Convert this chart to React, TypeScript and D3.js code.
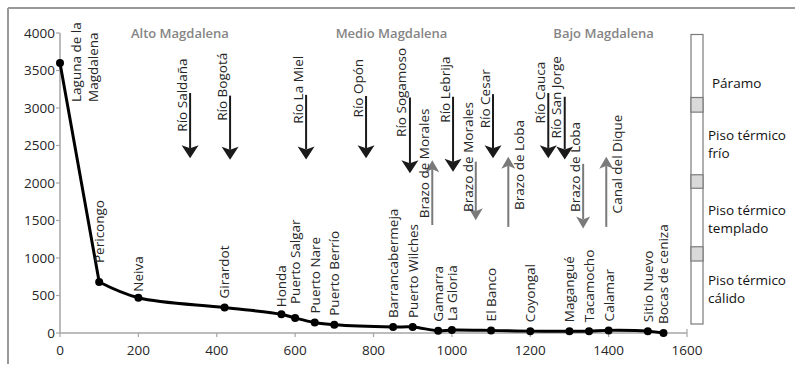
import React from "react";
import * as d3 from "d3";

// ---- Data ----
const cities = [
  "Laguna de la Magdalena", "Pericongo", "Neiva", "Girardot", "Honda",
  "Puerto Salgar", "Puerto Nare", "Puerto Berrío", "Barrancabermeja",
  "Puerto Wilches", "Gamarra", "La Gloria", "El Banco", "Coyongal",
  "Magangué", "Tacamocho", "Calamar", "Sitio Nuevo", "Bocas de ceniza",
];
const distanceKm = [0, 100, 200, 420, 565, 600, 650, 700, 850, 900, 965, 1000, 1100, 1200, 1300, 1350, 1400, 1500, 1540];
const elevationM = [3600, 680, 470, 340, 250, 200, 140, 110, 80, 80, 30, 40, 35, 25, 25, 25, 35, 25, 0];

const xTicks = [0, 200, 400, 600, 800, 1000, 1200, 1400, 1600];
const yTicks = [0, 500, 1000, 1500, 2000, 2500, 3000, 3500, 4000];

const regionNames = ["Alto Magdalena", "Medio Magdalena", "Bajo Magdalena"];
const regionCenterKm = [306, 846, 1387];

// Tributaries (black arrows pointing down)
const tribNames = ["Río Saldaña", "Río Bogotá", "Río La Miel", "Río Opón", "Río Sogamoso", "Río Lebrija", "Río Cesar", "Río Cauca", "Río San Jorge"];
const tribKm = [332, 434, 628, 781, 893, 1003, 1105, 1246, 1288];
const tribTop = [3200, 3165, 3175, 3160, 3140, 3150, 3185, 3200, 3150];
const tribTip = [2330, 2310, 2315, 2330, 2130, 2150, 2330, 2330, 2315];
const tribLabelStart = [2685, 2830, 2790, 2875, 2615, 2805, 2730, 2795, 2595];

// Branches (grey arrows)
const branchNames = ["Brazo de Morales", "Brazo de Morales", "Brazo de Loba", "Brazo de Loba", "Canal del Dique"];
const branchKm = [950, 1061, 1144, 1335, 1394];
const branchTail = [1440, 2285, 1415, 2255, 1415];
const branchTip = [2305, 1505, 2350, 1395, 2350];
const branchLabelStart = [1530, 1615, 1640, 1615, 1595];
const branchLabelRight = [false, false, true, false, true];

// Thermal floors
const floorBarTop = 3980;
const floorBarBottom = 120;
const transitionLow = [2945, 1930, 960];
const transitionHigh = [3140, 2110, 1150];
const floorLabels = [["Páramo"], ["Piso térmico", "frío"], ["Piso térmico", "templado"], ["Piso térmico", "cálido"]];
const floorLabelElev = [3265, 2575, 1575, 640];

// ---- Layout ----
const W = 795;
const H = 367;
const FONT = "'Open Sans', 'Noto Sans', sans-serif";
const FS = 13.5;

const labelGap: Record<string, number> = { Pericongo: 19, "Puerto Salgar": 14, Neiva: 6, Honda: 7 };

export default function App() {
  const x = d3.scaleLinear().domain([0, 1600]).range([60, 687]);
  const y = d3.scaleLinear().domain([0, 4000]).range([333, 33]);

  const pts = distanceKm.map((d, i) => [x(d), y(elevationM[i])] as [number, number]);
  // steep headwater drop is drawn straight, the rest smoothed
  const headPath = d3.line().curve(d3.curveLinear)(pts.slice(0, 2)) || "";
  const restPath = d3.line().curve(d3.curveCatmullRom.alpha(0.5))(pts.slice(1)) || "";

  const axisColor = "#a6a6a6";
  const textColor = "#262626";

  const downHead = (cx: number, ty: number, hw = 8.5, hh = 13) =>
    `M${cx},${ty} L${cx - hw},${ty - hh} L${cx},${ty - hh + 3} L${cx + hw},${ty - hh} Z`;
  const upHead = (cx: number, ty: number, hw = 7, hh = 12) =>
    `M${cx},${ty} L${cx - hw},${ty + hh} L${cx},${ty + hh - 3} L${cx + hw},${ty + hh} Z`;

  return (
    <svg width={W} height={H} style={{ position: "absolute", left: 0, top: 0, background: "#fff" }} fontFamily={FONT}>
      {/* frame */}
      <line x1={8} y1={8} x2={W} y2={8} stroke="#999" strokeWidth={2} />
      <line x1={8} y1={8} x2={8} y2={364} stroke="#999" strokeWidth={2} />

      {/* axes */}
      <line x1={x(0)} y1={y(0)} x2={x(1600)} y2={y(0)} stroke={axisColor} strokeWidth={1.5} />
      <line x1={x(1600)} y1={y(0)} x2={x(1600)} y2={y(0) - 4} stroke={axisColor} strokeWidth={1.2} />
      <line x1={x(0)} y1={y(0)} x2={x(0)} y2={y(4000)} stroke={axisColor} strokeWidth={1.5} />
      {xTicks.map((t) => (
        <g key={"xt" + t}>
          <line x1={x(t)} x2={x(t)} y1={y(0)} y2={y(0) + 4} stroke={axisColor} strokeWidth={1.2} />
          <text x={x(t)} y={355} textAnchor="middle" fontSize={FS} fill={textColor}>{t}</text>
        </g>
      ))}
      {yTicks.map((t) => (
        <g key={"yt" + t}>
          <line x1={x(0) - 4} x2={x(0)} y1={y(t)} y2={y(t)} stroke={axisColor} strokeWidth={1.2} />
          <text x={55} y={y(t)} dy="0.35em" textAnchor="end" fontSize={FS} fill={textColor}>{t}</text>
        </g>
      ))}

      {/* region titles */}
      {regionNames.map((r, i) => (
        <text key={r} x={x(regionCenterKm[i])} y={38} textAnchor="middle" fontSize={13} fontWeight={600} fill="#858585">{r}</text>
      ))}

      {/* tributary arrows */}
      {tribNames.map((n, i) => {
        const cx = x(tribKm[i]);
        const ty = y(tribTip[i]);
        return (
          <g key={"tr" + i}>
            <line x1={cx} x2={cx} y1={y(tribTop[i])} y2={ty - 10} stroke="#1a1a1a" strokeWidth={2} />
            <path d={downHead(cx, ty)} fill="#1a1a1a" />
            <text transform={`translate(${cx - 3.5},${y(tribLabelStart[i])}) rotate(-90)`} fontSize={FS} fill={textColor}>{n}</text>
          </g>
        );
      })}

      {/* branch arrows */}
      {branchNames.map((n, i) => {
        const cx = x(branchKm[i]);
        const ty = y(branchTip[i]);
        const tail = y(branchTail[i]);
        const up = branchTip[i] > branchTail[i];
        return (
          <g key={"br" + i}>
            <line x1={cx} x2={cx} y1={tail} y2={up ? ty + 9 : ty - 9} stroke="#7a7a7a" strokeWidth={2} />
            <path d={up ? upHead(cx, ty) : downHead(cx, ty, 7, 12)} fill="#7a7a7a" />
            <text
              transform={`translate(${branchLabelRight[i] ? cx + 16 : cx - 3},${y(branchLabelStart[i])}) rotate(-90)`}
              fontSize={FS}
              fill={textColor}
            >{n}</text>
          </g>
        );
      })}

      {/* profile line */}
      <path d={headPath} fill="none" stroke="#000" strokeWidth={3} strokeLinecap="round" />
      <path d={restPath} fill="none" stroke="#000" strokeWidth={3} strokeLinejoin="round" strokeLinecap="round" />
      {pts.map((p, i) => (
        <circle key={"pt" + i} cx={p[0]} cy={p[1]} r={4} fill="#000" />
      ))}

      {/* city labels */}
      {cities.map((c, i) => {
        const [px, py] = pts[i];
        if (i === 0) {
          return (
            <text key={c} transform={`translate(${px + 21},${py + 39}) rotate(-90)`} fontSize={FS} fill={textColor}>
              <tspan x={0} y={0}>Laguna de la</tspan>
              <tspan x={0} y={16.5}>Magdalena</tspan>
            </text>
          );
        }
        const gap = labelGap[c] ?? 9;
        return (
          <text key={c} transform={`translate(${px},${py - gap}) rotate(-90)`} dy="0.36em" fontSize={FS} fill={textColor}>{c}</text>
        );
      })}

      {/* thermal floors bar */}
      <rect x={691} y={y(floorBarTop)} width={12} height={y(floorBarBottom) - y(floorBarTop)} fill="#fff" stroke="#7a7a7a" strokeWidth={1.2} />
      {transitionLow.map((lo, i) => (
        <rect key={"tz" + i} x={691} y={y(transitionHigh[i])} width={12} height={y(lo) - y(transitionHigh[i])} fill="#d9d9d9" stroke="#7a7a7a" strokeWidth={1.2} />
      ))}
      {floorLabels.map((lines, i) => (
        <text key={"fl" + i} fontSize={FS} fill="#111">
          {lines.map((l, j) => (
            <tspan key={j} x={i === 0 ? 712 : 708} y={y(floorLabelElev[i]) + j * 18}>{l}</tspan>
          ))}
        </text>
      ))}
    </svg>
  );
}
